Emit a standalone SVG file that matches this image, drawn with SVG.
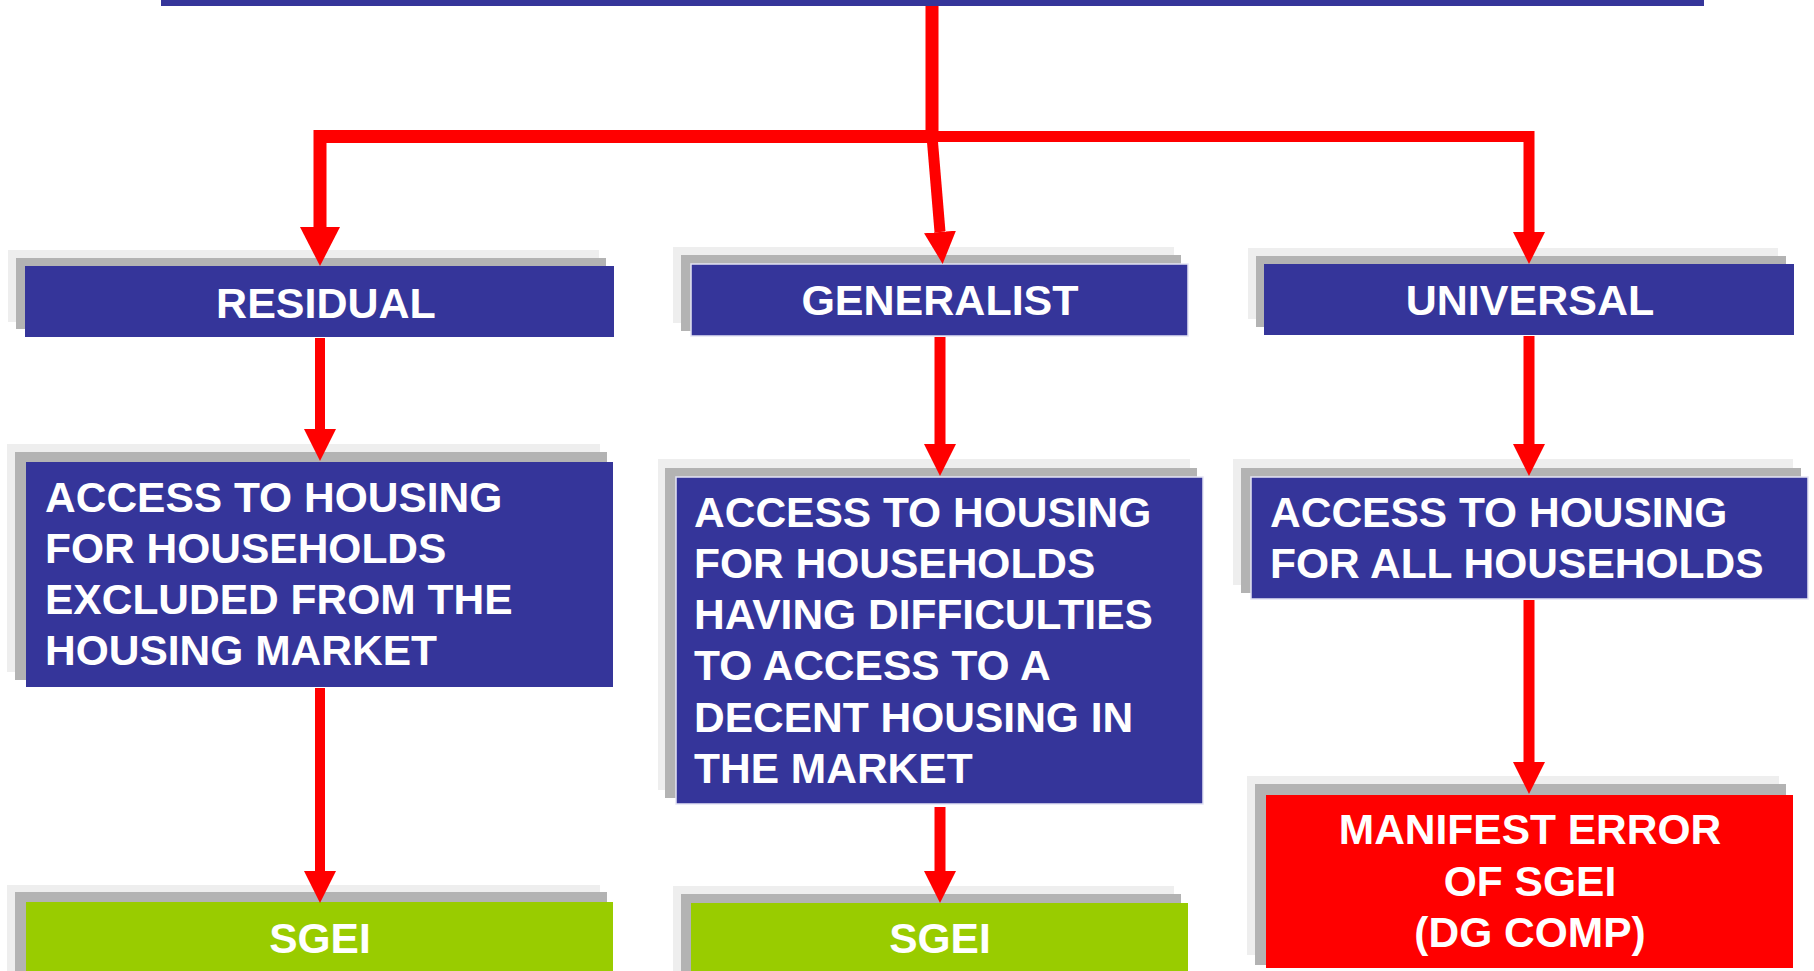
<svg xmlns="http://www.w3.org/2000/svg" width="1814" height="971" viewBox="0 0 1814 971">
<style>
.lt{fill:#eeeeee}
.dk{fill:#b3b3b3}
.bl{fill:#35359a}
.blb{fill:#35359a;stroke:#e4e4f4;stroke-width:1.5}
.gr{fill:#99cc00}
.rd{fill:#ff0000}
.t{font-family:"Liberation Sans",Arial,sans-serif;font-weight:bold;fill:#ffffff}
.h{font-size:43px;text-anchor:middle}
.b{font-size:42.5px}
.c{font-size:42.5px;text-anchor:middle}
.ln{fill:none;stroke:#ff0000;stroke-linejoin:miter}
</style>
<defs>
<marker id="ah" markerUnits="userSpaceOnUse" markerWidth="32" markerHeight="32" viewBox="0 -16 32 32" refX="0" refY="0" orient="auto">
<path d="M0,-16 L32,0 L0,16 Z" fill="#ff0000"/>
</marker>
<marker id="ahb" markerUnits="userSpaceOnUse" markerWidth="39" markerHeight="40" viewBox="0 -20 39 40" refX="0" refY="0" orient="auto">
<path d="M0,-20 L39,0 L0,20 Z" fill="#ff0000"/>
</marker>
</defs>
<g id="top">
<rect class="bl" x="161" y="0" width="1543" height="6"/>
</g>
<g id="residual">
<rect class="lt" x="8" y="250" width="591" height="72"/>
<rect class="dk" x="16" y="258" width="590" height="71"/>
<rect class="bl" x="25" y="266" width="589" height="71"/>
<text class="t h" x="326" y="318">RESIDUAL</text>
</g>
<g id="generalist">
<rect class="lt" x="673" y="247" width="501" height="76"/>
<rect class="dk" x="681" y="255" width="500" height="76"/>
<rect class="blb" x="691" y="264" width="497" height="72"/>
<text class="t h" x="940" y="315">GENERALIST</text>
</g>
<g id="universal">
<rect class="lt" x="1248" y="248" width="530" height="71"/>
<rect class="dk" x="1256" y="256" width="530" height="71"/>
<rect class="bl" x="1264" y="264" width="530" height="71"/>
<text class="t h" x="1530" y="315">UNIVERSAL</text>
</g>
<g id="access-excluded">
<rect class="lt" x="7" y="444" width="593" height="228"/>
<rect class="dk" x="15" y="452" width="592" height="228"/>
<rect class="bl" x="26" y="462" width="587" height="225"/>
<text class="t b" x="45" y="512">ACCESS TO HOUSING</text>
<text class="t b" x="45" y="563">FOR HOUSEHOLDS</text>
<text class="t b" x="45" y="614">EXCLUDED FROM THE</text>
<text class="t b" x="45" y="665">HOUSING MARKET</text>
</g>
<g id="access-difficulties">
<rect class="lt" x="658" y="459" width="532" height="331"/>
<rect class="dk" x="665" y="468" width="532" height="330"/>
<rect class="blb" x="676" y="477" width="527" height="327"/>
<text class="t b" x="694" y="527">ACCESS TO HOUSING</text>
<text class="t b" x="694" y="578">FOR HOUSEHOLDS</text>
<text class="t b" x="694" y="629">HAVING DIFFICULTIES</text>
<text class="t b" x="694" y="680">TO ACCESS TO A</text>
<text class="t b" x="694" y="732">DECENT HOUSING IN</text>
<text class="t b" x="694" y="783">THE MARKET</text>
</g>
<g id="access-all">
<rect class="lt" x="1233" y="459" width="560" height="126"/>
<rect class="dk" x="1241" y="468" width="560" height="125"/>
<rect class="blb" x="1251" y="477" width="557" height="122"/>
<text class="t b" x="1270" y="527">ACCESS TO HOUSING</text>
<text class="t b" x="1270" y="578">FOR ALL HOUSEHOLDS</text>
</g>
<g id="sgei-1">
<rect class="lt" x="7" y="885" width="593" height="90"/>
<rect class="dk" x="15" y="892" width="592" height="85"/>
<rect class="gr" x="26" y="902" width="587" height="75"/>
<text class="t c" x="320" y="953">SGEI</text>
</g>
<g id="sgei-2">
<rect class="lt" x="673" y="886" width="501" height="90"/>
<rect class="dk" x="681" y="894" width="500" height="85"/>
<rect class="gr" x="691" y="903" width="497" height="75"/>
<text class="t c" x="940" y="953">SGEI</text>
</g>
<g id="manifest-error">
<rect class="lt" x="1247" y="776" width="532" height="179"/>
<rect class="dk" x="1255" y="784" width="531" height="181"/>
<rect class="rd" x="1266" y="795" width="527" height="173"/>
<text class="t c" x="1530" y="844">MANIFEST ERROR</text>
<text class="t c" x="1530" y="896">OF SGEI</text>
<text class="t c" x="1530" y="947">(DG COMP)</text>
</g>
<g id="connectors">
<path class="ln" stroke-width="13" d="M932,6 L932,137"/>
<path class="ln" stroke-width="13" d="M932,136.5 L320,136.5 L320,227" marker-end="url(#ahb)"/>
<path class="ln" stroke-width="11" d="M931.5,130 L940,232" marker-end="url(#ah)"/>
<path class="ln" stroke-width="11" d="M932,136.5 L1529,136.5 L1529,232" marker-end="url(#ah)"/>
<path class="ln" stroke-width="10" d="M320,338 L320,429" marker-end="url(#ah)"/>
<path class="ln" stroke-width="10" d="M320,688 L320,871" marker-end="url(#ah)"/>
<path class="ln" stroke-width="11" d="M940,337 L940,444" marker-end="url(#ah)"/>
<path class="ln" stroke-width="11" d="M940,807 L940,871" marker-end="url(#ah)"/>
<path class="ln" stroke-width="11" d="M1529,336 L1529,444" marker-end="url(#ah)"/>
<path class="ln" stroke-width="11" d="M1529,600 L1529,762" marker-end="url(#ah)"/>
</g>
</svg>
